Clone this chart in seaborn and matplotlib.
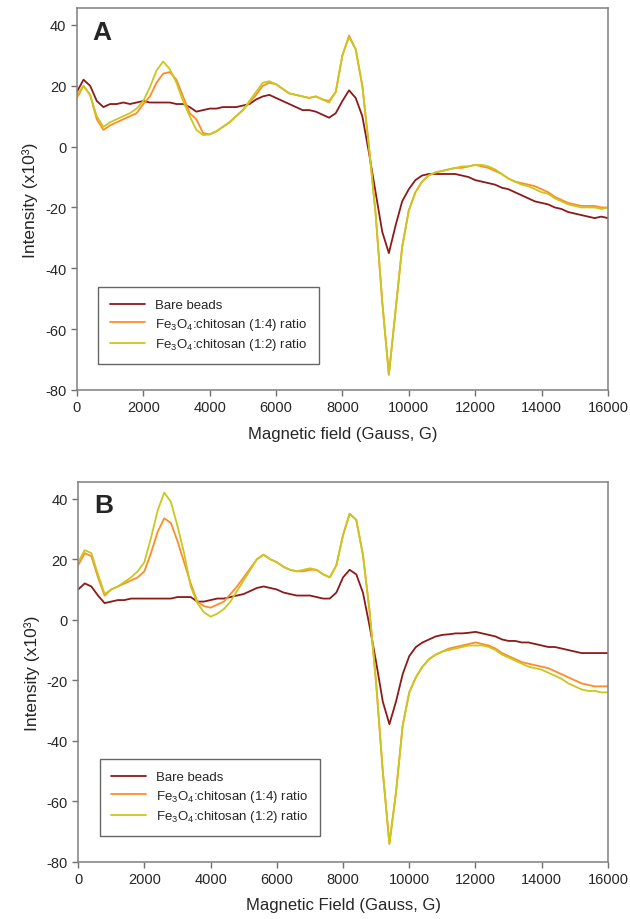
import numpy as np
import pandas as pd
import matplotlib
matplotlib.use("Agg")
import matplotlib.pyplot as plt
import seaborn as sns

# field axis, every 200 G
field = np.arange(0, 16001, 200)

series_names = ["Bare beads",
                r"Fe$_\mathregular{3}$O$_\mathregular{4}$:chitosan (1:4) ratio",
                r"Fe$_\mathregular{3}$O$_\mathregular{4}$:chitosan (1:2) ratio"]
colors = ["#8b1a1a", "#ff8c26", "#c8c81e"]

# panel A (x10^3)
a_bare = [18, 22, 20, 15, 13, 14, 14, 14.5, 14, 14.5,
          15, 14.5, 14.5, 14.5, 14.5, 14, 14, 13, 11.5, 12,
          12.5, 12.5, 13, 13, 13, 13.5, 14, 15.5, 16.5, 17,
          16, 15, 14, 13, 12, 12, 11.5, 10.5, 9.5, 11,
          15, 18.5, 16, 10, -2, -15, -28, -35, -26, -18,
          -14, -11, -9.5, -9, -9, -9, -9, -9, -9.5, -10,
          -11, -11.5, -12, -12.5, -13.5, -14, -15, -16, -17, -18,
          -18.5, -19, -20, -20.5, -21.5, -22, -22.5, -23, -23.5, -23,
          -23.5]
a_14 = [16, 20, 17, 9, 5.5, 7, 8, 9, 10, 11,
        14, 16.5, 21, 24, 24.5, 22, 16.5, 11, 9, 4.5,
        4, 5, 6.5, 8, 10, 12, 14.5, 17, 20, 21,
        20.5, 19, 17.5, 17, 16.5, 16, 16.5, 15.5, 15, 18,
        30, 36.5, 32, 20, 0, -22, -51, -75, -54, -33,
        -21, -15, -11.5, -9.5, -8.5, -8, -7.5, -7, -7, -6.5,
        -6, -6.5, -7, -8, -9, -10.5, -11.5, -12, -12.5, -13,
        -14, -15, -16.5, -17.5, -18.5, -19, -19.5, -19.5, -19.5, -20,
        -20]
a_12 = [17, 20, 17, 10, 6.5, 8, 9, 10, 11, 12.5,
        15, 19.5, 25, 28, 25.5, 21, 15, 10, 5.5, 3.8,
        4, 5, 6.5, 8, 10, 12, 15, 18, 21, 21.5,
        20.5, 19, 17.5, 17, 16.5, 16, 16.5, 15.5, 14.5, 18,
        30, 36, 32, 20, 0, -22, -51, -75, -54, -33,
        -21, -15, -11.5, -9.5, -8.5, -8, -7.5, -7, -6.5, -6.5,
        -6, -6, -6.5, -7.5, -9, -10.5, -11.5, -12.5, -13, -14,
        -15, -15.5, -17, -18, -19, -19.5, -20, -20, -20, -20.5,
        -20]

# panel B (x10^3)
b_bare = [10, 12, 11, 8, 5.5, 6, 6.5, 6.5, 7, 7,
          7, 7, 7, 7, 7, 7.5, 7.5, 7.5, 6, 6,
          6.5, 7, 7, 7.5, 8, 8.5, 9.5, 10.5, 11, 10.5,
          10, 9, 8.5, 8, 8, 8, 7.5, 7, 7, 9,
          14, 16.5, 15, 9, -2, -14, -27, -34.5, -27, -18,
          -12, -9, -7.5, -6.5, -5.5, -5, -4.8, -4.5, -4.5, -4.3,
          -4, -4.5, -5, -5.5, -6.5, -7, -7, -7.5, -7.5, -8,
          -8.5, -9, -9, -9.5, -10, -10.5, -11, -11, -11, -11,
          -11]
b_14 = [18, 22, 21, 14, 8, 10, 11, 12, 13, 14,
        16, 22, 29, 33.5, 32, 26, 19, 12, 6, 4.5,
        4, 5, 6, 8.5, 11, 14, 17, 20, 21.5, 20,
        19, 17.5, 16.5, 16, 16, 16.5, 16.5, 15, 14, 18,
        28, 35, 33, 21.5, 3, -21, -50, -74, -57, -35,
        -24, -19, -15.5, -13, -11.5, -10.5, -9.5, -9, -8.5, -8,
        -7.5, -8, -8.5, -9.5, -11, -12, -13, -14, -14.5, -15,
        -15.5, -16, -17, -18, -19, -20, -21, -21.5, -22, -22,
        -22]
b_12 = [19, 23, 22, 15, 8.5, 10, 11, 12.5, 14, 16,
        19, 27, 36, 42, 39, 31, 22, 11, 5.5, 2.5,
        1, 2, 3.5, 6, 9.5, 13, 16.5, 20, 21.5, 20,
        19, 17.5, 16.5, 16, 16.5, 17, 16.5, 15, 14, 18,
        28, 35, 33, 21.5, 3, -21, -50, -74, -57, -35,
        -24, -19, -15.5, -13, -11.5, -10.5, -10, -9.5, -9, -8.5,
        -8.5, -8.5, -9, -10, -11.5, -12.5, -13.5, -14.5, -15.5, -16,
        -16.5, -17.5, -18.5, -19.5, -21, -22, -23, -23.5, -23.5, -24,
        -24]

x_ticks = list(range(0, 16001, 2000))
y_ticks = [-80, -60, -40, -20, 0, 20, 40]


def long_df(cols):
    frames = []
    for name, vals in zip(series_names, cols):
        frames.append(pd.DataFrame({"field": field, "intensity": vals, "series": name}))
    return pd.concat(frames, ignore_index=True)


sns.set_style("ticks")
plt.rcParams["font.family"] = ["Liberation Sans", "DejaVu Sans"]
plt.rcParams["mathtext.fontset"] = "custom"
plt.rcParams["mathtext.rm"] = "Liberation Sans"
plt.rcParams["mathtext.it"] = "Liberation Sans:italic"
plt.rcParams["mathtext.bf"] = "Liberation Sans:bold"
plt.rcParams["axes.unicode_minus"] = False

fig = plt.figure(figsize=(6.3, 9.2), dpi=100)
ax_a = fig.add_axes([0.122, 0.575, 0.843, 0.415])
ax_b = fig.add_axes([0.124, 0.062, 0.841, 0.413])

panels = [(ax_a, [a_bare, a_14, a_12], "A", "Magnetic field (Gauss, G)"),
          (ax_b, [b_bare, b_14, b_12], "B", "Magnetic Field (Gauss, G)")]

for ax, cols, letter, xlabel in panels:
    df = long_df(cols)
    sns.lineplot(data=df, x="field", y="intensity", hue="series",
                 palette=dict(zip(series_names, colors)), estimator=None,
                 linewidth=1.3, ax=ax)
    ax.set_xlim(0, 16000)
    ax.set_ylim(-80, 45.5)
    ax.set_xticks(x_ticks)
    ax.set_yticks(y_ticks)
    ax.tick_params(axis="both", labelsize=10.5, length=4, width=1,
                   color="#707070", direction="out")
    for sp in ax.spines.values():
        sp.set_visible(True)
        sp.set_color("#808080")
        sp.set_linewidth(1.1)
    ax.set_xlabel(xlabel, fontsize=12, labelpad=8)
    ax.set_ylabel("Intensity (x10³)", fontsize=12.5, labelpad=5)
    ax.text(0.03, 0.97, letter, transform=ax.transAxes, fontsize=19,
            fontweight="bold", va="top", ha="left")
    leg = ax.legend(loc="lower left", bbox_to_anchor=(0.028, 0.05),
                    fontsize=9.5, frameon=True, fancybox=False,
                    handlelength=2.6, borderpad=0.9, labelspacing=0.35,
                    handletextpad=0.8)
    leg.get_frame().set_edgecolor("#404040")
    leg.get_frame().set_linewidth(1.0)

fig.savefig("out.png", dpi=100)
